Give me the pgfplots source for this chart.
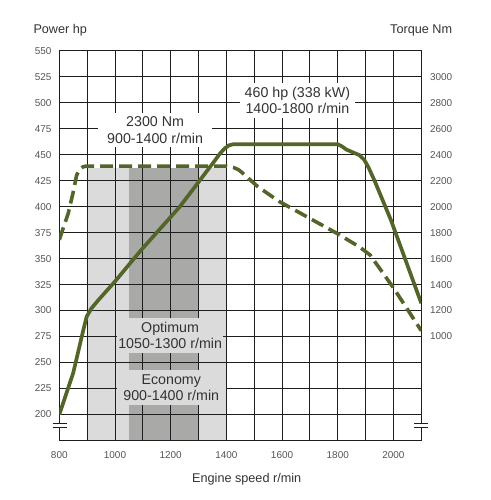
\documentclass[border=0pt]{standalone}
\usepackage{fontspec}
\setmainfont{Liberation Sans}
\usepackage{pgfplots}
\pgfplotsset{compat=1.18}
\definecolor{olivec}{HTML}{536529}
\definecolor{lgray}{HTML}{DBDBDB}
\definecolor{dgray}{HTML}{A9AAA7}
\definecolor{gridc}{HTML}{1E1E1E}
\definecolor{tickc}{HTML}{555555}
\definecolor{txt}{HTML}{333333}
\newcommand{\annot}{\fontsize{14.3}{16.5}\selectfont}
\newcommand{\labf}{\fontsize{12.7}{14}\selectfont}
\begin{document}
\begin{tikzpicture}
\path[use as bounding box] (0,0) rectangle (491bp,500bp);
\pgfplotsset{base/.style={at={(59.3bp,59.5bp)}, anchor=south west, scale only axis,
  width=362bp, height=389.8bp, xmin=800, xmax=2100,
  /pgf/number format/assume math mode=true, /pgf/number format/1000 sep={},
  major tick length=0pt, minor tick length=0pt,
  axis line style={draw=gridc, line width=0.9bp},
  ticklabel style={font=\fontsize{10}{11}\selectfont, text=tickc, inner sep=0pt}}}
% shaded speed ranges
\begin{axis}[base, ymin=175, ymax=550, hide axis]
\addplot[fill=lgray, draw=none] coordinates {(900,175) (1400,175) (1400,437) (900,437)} -- cycle;
\addplot[fill=dgray, draw=none] coordinates {(1050,175) (1300,175) (1300,437) (1050,437)} -- cycle;
\end{axis}
% power axis with grid
\begin{axis}[base, ymin=175, ymax=550, clip mode=individual,
  xtick={800,1000,...,2000}, minor xtick={900,1100,...,2100},
  ytick={200,225,...,550},
  grid=both,
  major grid style={draw=gridc, line width=0.9bp},
  minor grid style={draw=gridc, line width=0.9bp},
  xticklabel style={anchor=center, yshift=-14.5bp},
  yticklabel style={anchor=east, xshift=-7.6bp},
]
\node[fill=white, minimum width=114bp, minimum height=34bp, inner sep=0pt, align=center, font=\annot, text=txt] at (axis cs:1144,473.7) {2300 Nm\\900-1400 r/min};
\node[fill=white, minimum width=115bp, minimum height=35bp, inner sep=0pt, align=center, font=\annot, text=txt] at (axis cs:1655,502.1) {460 hp (338 kW)\\1400-1800 r/min};
\node[fill=lgray, minimum width=106bp, minimum height=35.6bp, inner sep=0pt, align=center, font=\annot, text=txt] at (axis cs:1198,276) {Optimum\\1050-1300 r/min};
\node[fill=lgray, minimum width=109bp, minimum height=35bp, inner sep=0pt, align=center, font=\annot, text=txt] at (axis cs:1202,226) {Economy\\900-1400 r/min};
\addplot[olivec, line width=3.7pt, line join=round] coordinates {
(800,200) (850,240) (886,281) (898,294) (915,302) (940,310) (970,319) (1000,328)
(1090,357) (1233,400) (1355,443) (1377,451) (1394,456) (1410,459) (1425,460)
(1800,460) (1815,458) (1830,455) (1878,449.5) (1895,445) (1910,438) (1932,425)
(1991,387) (2100,307)};
\end{axis}
% torque axis
\begin{axis}[base, ymin=200, ymax=3200, axis x line=none, axis y line*=right,
  ytick={1000,1200,...,3000},
  yticklabel style={anchor=west, xshift=8.5bp},
]
\addplot[olivec, line width=3.6pt, dash pattern=on 13bp off 6bp] coordinates {
(800,1745) (832,1948) (850,2112) (862,2240) (872,2285) (885,2306) (897,2312)
(1400,2312) (1425,2302) (1445,2282) (1460,2255) (1513,2153) (1591,2038)
(1722,1883) (1798,1793) (1877,1691) (1916,1628) (2000,1375) (2100,1045)};
\end{axis}
% axis breaks
\fill[white] (57.8bp,73.3bp) rectangle (60.8bp,75.7bp);
\draw[gridc, line width=0.9bp] (52.7bp,76.7bp) -- (66.7bp,76.7bp);
\draw[gridc, line width=0.9bp] (52.7bp,72.3bp) -- (66.7bp,72.3bp);
\fill[white] (419.8bp,73.3bp) rectangle (422.8bp,75.7bp);
\draw[gridc, line width=0.9bp] (414bp,76.7bp) -- (428.3bp,76.7bp);
\draw[gridc, line width=0.9bp] (414bp,72.3bp) -- (428.3bp,72.3bp);
% axis titles
\node[anchor=base west, inner sep=0pt, font=\labf, text=txt] at (33.3bp,466.7bp) {Power hp};
\node[anchor=base east, inner sep=0pt, font=\labf, text=txt] at (452.3bp,466.7bp) {Torque Nm};
\node[anchor=base, inner sep=0pt, font=\labf, text=txt] at (246.7bp,17.7bp) {Engine speed r/min};
\end{tikzpicture}
\end{document}
